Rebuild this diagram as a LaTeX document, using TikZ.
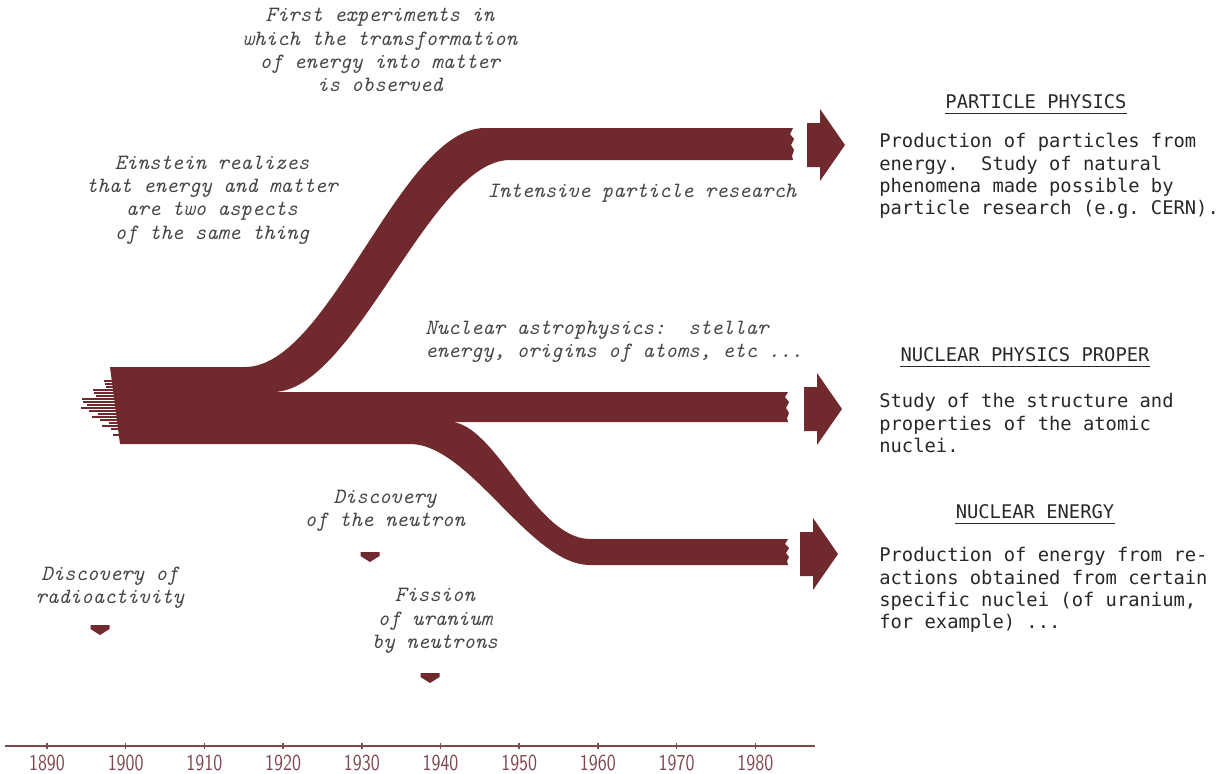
\documentclass[tikz,border=0pt]{standalone}
\usepackage{fontspec}
\usetikzlibrary{calc}
\newfontfamily\descfont{DejaVu Sans Mono}
\definecolor{bandred}{RGB}{112,42,46}
\definecolor{axisred}{RGB}{125,72,78}
\definecolor{notegray}{RGB}{70,70,70}
\definecolor{descgray}{RGB}{40,40,40}
\tikzset{
	band/.style={fill=bandred},
	strand/.style={draw=bandred, line width=1pt},
	note/.style={font=\fontsize{12.4}{13.2}\selectfont\ttfamily\itshape, text=notegray, align=center, inner sep=0pt},
	head/.style={font=\fontsize{10.7}{12.7}\selectfont\descfont\frenchspacing, text=descgray, inner sep=0pt},
	desc/.style={head, align=left, anchor=west},
	uline/.style={draw=descgray, line width=0.8pt},
	axis/.style={draw=axisred, line width=0.9pt},
	yearlabel/.style={font=\fontsize{13}{15}\selectfont\sffamily, text=axisred, inner sep=0pt},
}
\def\bigarrow(#1,#2){\fill[band] (#1-38,#2-22) -- (#1-25,#2-22) -- (#1-25,#2-36) -- (#1,#2) -- (#1-25,#2+36) -- (#1-25,#2+22) -- (#1-38,#2+22) -- cycle;}
\def\marker(#1,#2){\fill[band] (#1-9.5,#2-5) -- (#1+9.5,#2-5) -- (#1+9.5,#2-1) -- (#1,#2+5) -- (#1-9.5,#2-1) -- cycle;}

\begin{document}
\begin{tikzpicture}[x=0.02cm, y=-0.02cm]
		%%%%% START %%%%%
		\useasboundingbox (0,0) rectangle (1227,774);
		
		% trunk and the three branches
		\fill[band] (110,367) -- (245,367) .. controls (330,367) and (400,128) .. (485,128) -- (793,128)
			-- ++(-3,6) -- ++(4,5) -- ++(-3,6) -- ++(3,5) -- ++(-2,6) -- ++(1,4)
			-- (510,160) .. controls (430,160) and (355,392) .. (273,392) -- (788,392)
			-- ++(-3,5) -- ++(4,5) -- ++(-3,6) -- ++(3,5) -- ++(-2,5) -- ++(1,4)
			-- (450,422) .. controls (495,422) and (535,539) .. (590,539) -- (788,539)
			-- ++(-3,5) -- ++(4,4) -- ++(-3,5) -- ++(3,4) -- ++(-2,4) -- ++(1,4)
			-- (590,565) .. controls (530,565) and (470,444) .. (410,444) -- (120,444) -- cycle;
		
		% frayed left end
		\foreach \y [count=\i] in {375,378,...,435}
			\draw[strand] (122,\y) -- ++({-(46-1.2*abs(\y-404)-5*mod(\i,3))},0);
		
		\bigarrow(845,145)
		\bigarrow(842,409)
		\bigarrow(838,554)
		
		\marker(100,630)
		\marker(370,557)
		\marker(430,678)
		
		\node[note] (firstexp) at (380,50) {First experiments in\\which the transformation\\of energy into matter\\is observed};
		\node[note] (einstein) at (212,200) {Einstein realizes\\that energy and matter\\are two aspects\\of the same thing};
		\node[note] (intensive) at (642,193) {Intensive particle research};
		\node[note, align=left, anchor=west] (astro) at (425,342) {Nuclear astrophysics:\ \ stellar\\energy, origins of atoms, etc ...};
		\node[note] (neutron) at (385,511) {Discovery\\of the neutron};
		\node[note] (radio) at (110,588) {Discovery of\\radioactivity};
		\node[note] (fission) at (435,621) {Fission\\of uranium\\by neutrons};
		
		\node[head] (pphead) at (1036,102) {PARTICLE PHYSICS};
		\draw[uline] ([yshift=-2.5pt]pphead.base west) -- ([yshift=-2.5pt]pphead.base east);
		\node[desc] (ppdesc) at (879,176) {Production of particles from\\energy.\ \ Study of natural\\phenomena made possible by\\particle research (e.g. CERN).};
		
		\node[head] (nphead) at (1025,355) {NUCLEAR PHYSICS PROPER};
		\draw[uline] ([yshift=-2.5pt]nphead.base west) -- ([yshift=-2.5pt]nphead.base east);
		\node[desc] (npdesc) at (879,423) {Study of the structure and\\properties of the atomic\\nuclei.};
		
		\node[head] (nehead) at (1035,512) {NUCLEAR ENERGY};
		\draw[uline] ([yshift=-2.5pt]nehead.base west) -- ([yshift=-2.5pt]nehead.base east);
		\node[desc] (nedesc) at (879,590) {Production of energy from re-\\actions obtained from certain\\specific nuclei (of uranium,\\for example) ...};
		
		% time axis
		\draw[axis] (5,746) -- (815,746);
		\foreach \yr in {1890,1900,...,1980} {
			\draw[axis] ({47+7.87*(\yr-1890)},743) -- ++(0,6);
			\node[yearlabel] (y\yr) at ({47+7.87*(\yr-1890)},763) {\scalebox{0.8}[1]{\yr}};
		}
		%%%%% END %%%%%
\end{tikzpicture}
\end{document}
